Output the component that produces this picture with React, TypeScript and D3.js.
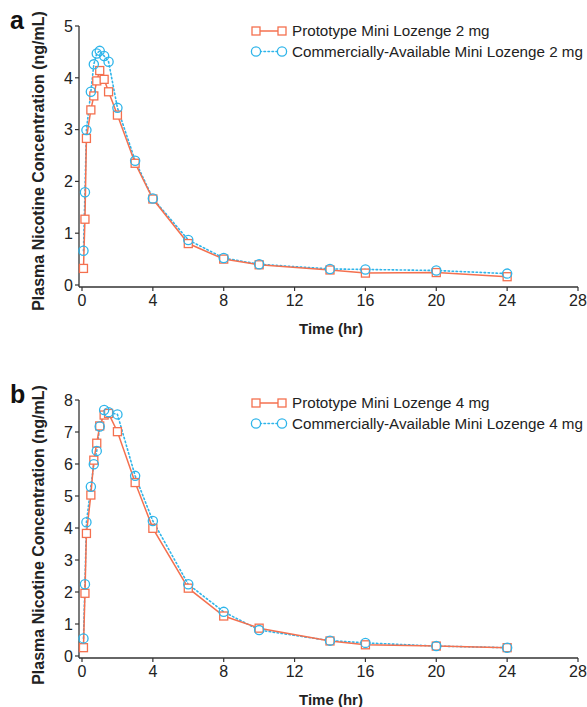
import React from "react";
import * as d3 from "d3";

const times = [0.083, 0.167, 0.25, 0.5, 0.667, 0.833, 1, 1.25, 1.5, 2, 3, 4, 6, 8, 10, 14, 16, 20, 24];

const protoA = [0.32, 1.27, 2.83, 3.38, 3.65, 3.94, 4.14, 3.97, 3.73, 3.28, 2.35, 1.66, 0.8, 0.5, 0.39, 0.29, 0.23, 0.24, 0.16];
const commA = [0.66, 1.79, 2.99, 3.73, 4.26, 4.47, 4.52, 4.42, 4.31, 3.42, 2.4, 1.67, 0.87, 0.52, 0.4, 0.31, 0.3, 0.28, 0.22];

const protoB = [0.26, 1.96, 3.83, 5.03, 6.12, 6.65, 7.19, 7.53, 7.58, 7.01, 5.42, 3.99, 2.12, 1.25, 0.87, 0.47, 0.35, 0.31, 0.26];
const commB = [0.55, 2.24, 4.18, 5.29, 5.99, 6.41, 7.17, 7.69, 7.62, 7.55, 5.63, 4.22, 2.24, 1.38, 0.81, 0.48, 0.41, 0.31, 0.26];

const xTicks = [0, 4, 8, 12, 16, 20, 24, 28];
const yTicksA = [0, 1, 2, 3, 4, 5];
const yTicksB = [0, 1, 2, 3, 4, 5, 6, 7, 8];

const legendA = ["Prototype Mini Lozenge 2 mg", "Commercially-Available Mini Lozenge 2 mg"];
const legendB = ["Prototype Mini Lozenge 4 mg", "Commercially-Available Mini Lozenge 4 mg"];

const ORANGE = "#f4704f";
const BLUE = "#2fb5ea";
const AXIS = "#333";
const FONT = "'Liberation Sans', Arial, sans-serif";

type PanelProps = {
  letter: string;
  yMax: number;
  yTicks: number[];
  proto: number[];
  comm: number[];
  legend: string[];
  top: number;
  bottom: number;
  legY: number;
};

function Square({ x, y }: { x: number; y: number }) {
  const s = 8;
  return <rect x={x - s / 2} y={y - s / 2} width={s} height={s} fill="white" stroke={ORANGE} strokeWidth={1.3} />;
}
function Circle({ x, y, fill = "none" }: { x: number; y: number; fill?: string }) {
  return <circle cx={x} cy={y} r={4.6} fill={fill} stroke={BLUE} strokeWidth={1.3} />;
}

function Panel({ letter, yMax, yTicks, proto, comm, legend, top, bottom, legY }: PanelProps) {
  const x = d3.scaleLinear().domain([0, 28]).range([82, 578]);
  const y = d3.scaleLinear().domain([0, yMax]).range([bottom, top]);
  const axisX = 79;
  const line = d3
    .line<[number, number]>()
    .x((d) => x(d[0]))
    .y((d) => y(d[1]));
  const pData: [number, number][] = times.map((t, i) => [t, proto[i]]);
  const cData: [number, number][] = times.map((t, i) => [t, comm[i]]);
  const axisY = bottom + 2;
  const midY = top + 135;
  return (
    <g>
      <text x={10} y={top + 3} fontSize={25} fontWeight="bold" fontFamily={FONT} fill="#111">
        {letter}
      </text>
      <text
        transform={`translate(44,${midY}) rotate(-90)`}
        textAnchor="middle"
        fontSize={16}
        fontWeight="bold"
        fontFamily={FONT}
        fill="#222"
      >
        Plasma Nicotine Concentration (ng/mL)
      </text>
      <line x1={axisX} x2={axisX} y1={y(yMax)} y2={axisY} stroke={AXIS} strokeWidth={1.3} />
      {yTicks.map((t) => (
        <g key={t}>
          <line x1={axisX - 4} x2={axisX} y1={y(t)} y2={y(t)} stroke={AXIS} strokeWidth={1.2} />
          <text x={axisX - 6} y={y(t)} dy="0.36em" textAnchor="end" fontSize={16} fontFamily={FONT} fill="#222">
            {t}
          </text>
        </g>
      ))}
      <line x1={axisX} x2={x(28)} y1={axisY} y2={axisY} stroke={AXIS} strokeWidth={1.3} />
      {xTicks.map((t) => (
        <g key={t}>
          <line x1={x(t)} x2={x(t)} y1={axisY} y2={axisY + 4} stroke={AXIS} strokeWidth={1.2} />
          <text x={x(t)} y={axisY + 19} textAnchor="middle" fontSize={16} fontFamily={FONT} fill="#222">
            {t}
          </text>
        </g>
      ))}
      <text x={331} y={axisY + 47} textAnchor="middle" fontSize={15} fontWeight="bold" fontFamily={FONT} fill="#222">
        Time (hr)
      </text>
      <path d={line(cData) || ""} fill="none" stroke={BLUE} strokeWidth={1.6} strokeDasharray="1.5,2.5" strokeLinecap="round" />
      <path d={line(pData) || ""} fill="none" stroke={ORANGE} strokeWidth={1.5} />
      {pData.map((d, i) => (
        <Square key={"p" + i} x={x(d[0])} y={y(d[1])} />
      ))}
      {cData.map((d, i) => (
        <Circle key={"c" + i} x={x(d[0])} y={y(d[1])} />
      ))}
      <g>
        <line x1={256} x2={282} y1={legY} y2={legY} stroke={ORANGE} strokeWidth={1.5} />
        <Square x={256} y={legY} />
        <Square x={282} y={legY} />
        <text x={292} y={legY} dy="0.36em" fontSize={15.2} fontFamily={FONT} fill="#222">
          {legend[0]}
        </text>
        <line x1={256} x2={282} y1={legY + 20.5} y2={legY + 20.5} stroke={BLUE} strokeWidth={1.6} strokeDasharray="1.5,2.5" strokeLinecap="round" />
        <Circle x={256} y={legY + 20.5} fill="white" />
        <Circle x={282} y={legY + 20.5} fill="white" />
        <text x={292} y={legY + 20.5} dy="0.36em" fontSize={15.2} fontFamily={FONT} fill="#222">
          {legend[1]}
        </text>
      </g>
    </g>
  );
}

export default function App() {
  return (
    <svg width={587} height={707} style={{ position: "absolute", left: 0, top: 0, background: "white" }}>
      <rect width={587} height={707} fill="white" />
      <Panel letter="a" yMax={5} yTicks={yTicksA} proto={protoA} comm={commA} legend={legendA} top={26} bottom={285} legY={31} />
      <Panel letter="b" yMax={8} yTicks={yTicksB} proto={protoB} comm={commB} legend={legendB} top={400} bottom={656} legY={403} />
    </svg>
  );
}
